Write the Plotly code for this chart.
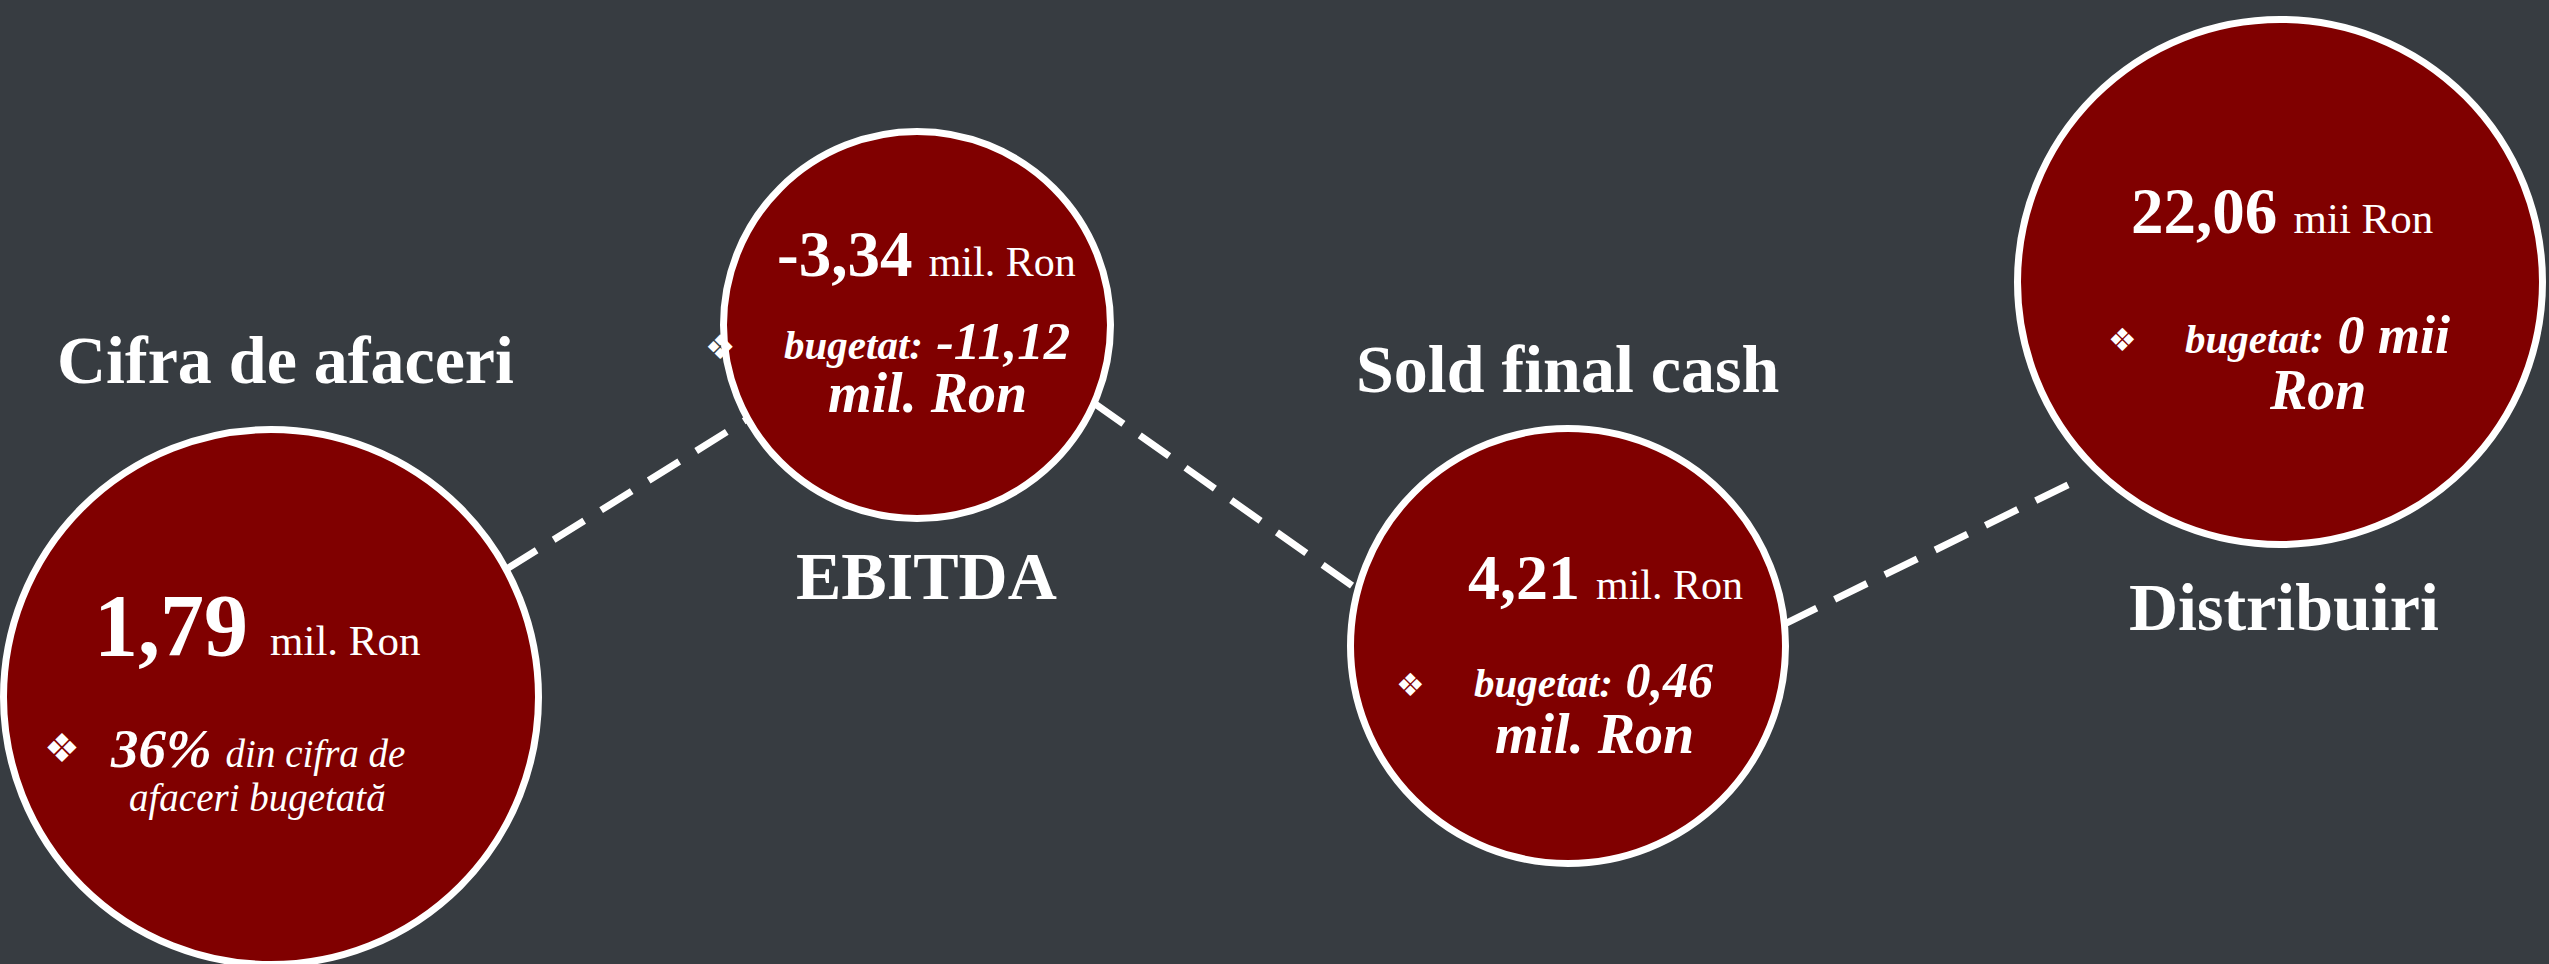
import math
import plotly.graph_objects as go

# ---------------- data ----------------
metrics = ["Cifra de afaceri", "EBITDA", "Sold final cash", "Distribuiri"]
values = ["1,79", "-3,34", "4,21", "22,06"]
units = ["mil. Ron", "mil. Ron", "mil. Ron", "mii Ron"]
budget_lead = ["", "bugetat:", "bugetat:", "bugetat:"]
budget_values = ["36%", "-11,12", "0,46", "0 mii"]
budget_tail = ["din cifra de", "", "", ""]
budget_line2 = ["afaceri bugetată", "mil. Ron", "mil. Ron", "Ron"]

# ---------------- layout geometry (pixels) ----------------
W, H = 2549, 964
BG = "#373c41"
FILL = "#800000"
SERIF = "Book Antiqua, Palatino Linotype, Liberation Serif, serif"
SYM = "DejaVu Sans"

cx = [271, 917, 1568, 2280]
cy = [697, 325, 646, 282]
r_out = [271, 197, 221, 266]
BORDER = 7

# connectors: (from circle, angle deg, extra gap, to circle, angle deg, extra gap)
connectors = [(0, -28.5, 0, 1, 151, 0), (1, 23.8, 0, 2, 195, 0), (2, -5.8, 0, 3, 135.7, 22)]

# text placement per circle
value_pos = [(257, 656), (926, 277), (1605, 600), (2282, 234)]
value_size = [88, 65, 64, 65]
unit_size = [43, 42, 42, 43]
bullet_pos = [(62, 748), (720, 347), (1410, 685), (2122, 340)]
bullet_size = [40, 34, 32, 32]
b1_pos = [(257, 768), (927, 360), (1593, 698), (2317, 354)]
b1_big = [55, 53, 50, 54]
b1_small = [39, 41, 41, 41]
b2_pos = [(257, 813), (927, 413), (1594, 754), (2318, 410)]
b2_size = [39, 56, 56, 56]
label_pos = [(285, 384), (926, 600), (1567, 393), (2284, 631)]
LABEL_SIZE = 68

fig = go.Figure()

# connectors
for a, ang_a, ga, b, ang_b, gb in connectors:
    ra = r_out[a] - BORDER / 2 + ga
    rb = r_out[b] - BORDER / 2 + gb
    x0 = cx[a] + ra * math.cos(math.radians(ang_a))
    y0 = cy[a] + ra * math.sin(math.radians(ang_a))
    x1 = cx[b] + rb * math.cos(math.radians(ang_b))
    y1 = cy[b] + rb * math.sin(math.radians(ang_b))
    fig.add_shape(type="line", xref="x", yref="y", x0=x0, y0=y0, x1=x1, y1=y1,
                  line=dict(color="white", width=7, dash="36px,20px"))

# circles
for i in range(len(metrics)):
    r = r_out[i] - BORDER / 2
    fig.add_shape(type="circle", xref="x", yref="y",
                  x0=cx[i] - r, x1=cx[i] + r, y0=cy[i] - r, y1=cy[i] + r,
                  fillcolor=FILL, line=dict(color="white", width=BORDER))


def txt(x, baseline, html, size, family=SERIF, anchor="center"):
    fig.add_annotation(x=x, y=baseline + 0.216 * size + 1, xref="x", yref="y",
                       text=html, showarrow=False, xanchor=anchor, yanchor="bottom",
                       font=dict(family=family, size=size, color="white"))


for i in range(len(metrics)):
    # value line
    vx, vb = value_pos[i]
    txt(vx, vb, f"<b>{values[i]}</b> <span style='font-size:{unit_size[i]}px'>{units[i]}</span>",
        value_size[i])
    # bullet
    bx, by = bullet_pos[i]
    fig.add_annotation(x=bx, y=by, xref="x", yref="y", text="❖", showarrow=False,
                       xanchor="center", yanchor="middle",
                       font=dict(family=SYM, size=bullet_size[i], color="white"))
    # budget line 1
    x1_, b1 = b1_pos[i]
    if budget_lead[i]:
        h1 = (f"<span style='font-size:{b1_small[i]}px'><b><i>{budget_lead[i]}</i></b></span> "
              f"<b><i>{budget_values[i]}</i></b>")
    else:
        h1 = (f"<b><i>{budget_values[i]}</i></b> "
              f"<span style='font-size:{b1_small[i]}px'><i>{budget_tail[i]}</i></span>")
    txt(x1_, b1, h1, b1_big[i])
    # budget line 2
    x2_, b2 = b2_pos[i]
    if budget_lead[i]:
        h2 = f"<b><i>{budget_line2[i]}</i></b>"
    else:
        h2 = f"<i>{budget_line2[i]}</i>"
    txt(x2_, b2, h2, b2_size[i])
    # label
    lx, lb = label_pos[i]
    txt(lx, lb, f"<b>{metrics[i]}</b>", LABEL_SIZE)

fig.update_xaxes(range=[0, W], visible=False, fixedrange=True)
fig.update_yaxes(range=[H, 0], visible=False, fixedrange=True)
fig.update_layout(width=W, height=H, autosize=False,
                  margin=dict(l=0, r=0, t=0, b=0),
                  paper_bgcolor=BG, plot_bgcolor=BG, showlegend=False)

fig.write_html("out.html", config={"displayModeBar": False},
               post_script="document.body.style.margin='0';document.body.style.overflow='hidden';"
                           "document.body.style.background='" + BG + "';")
